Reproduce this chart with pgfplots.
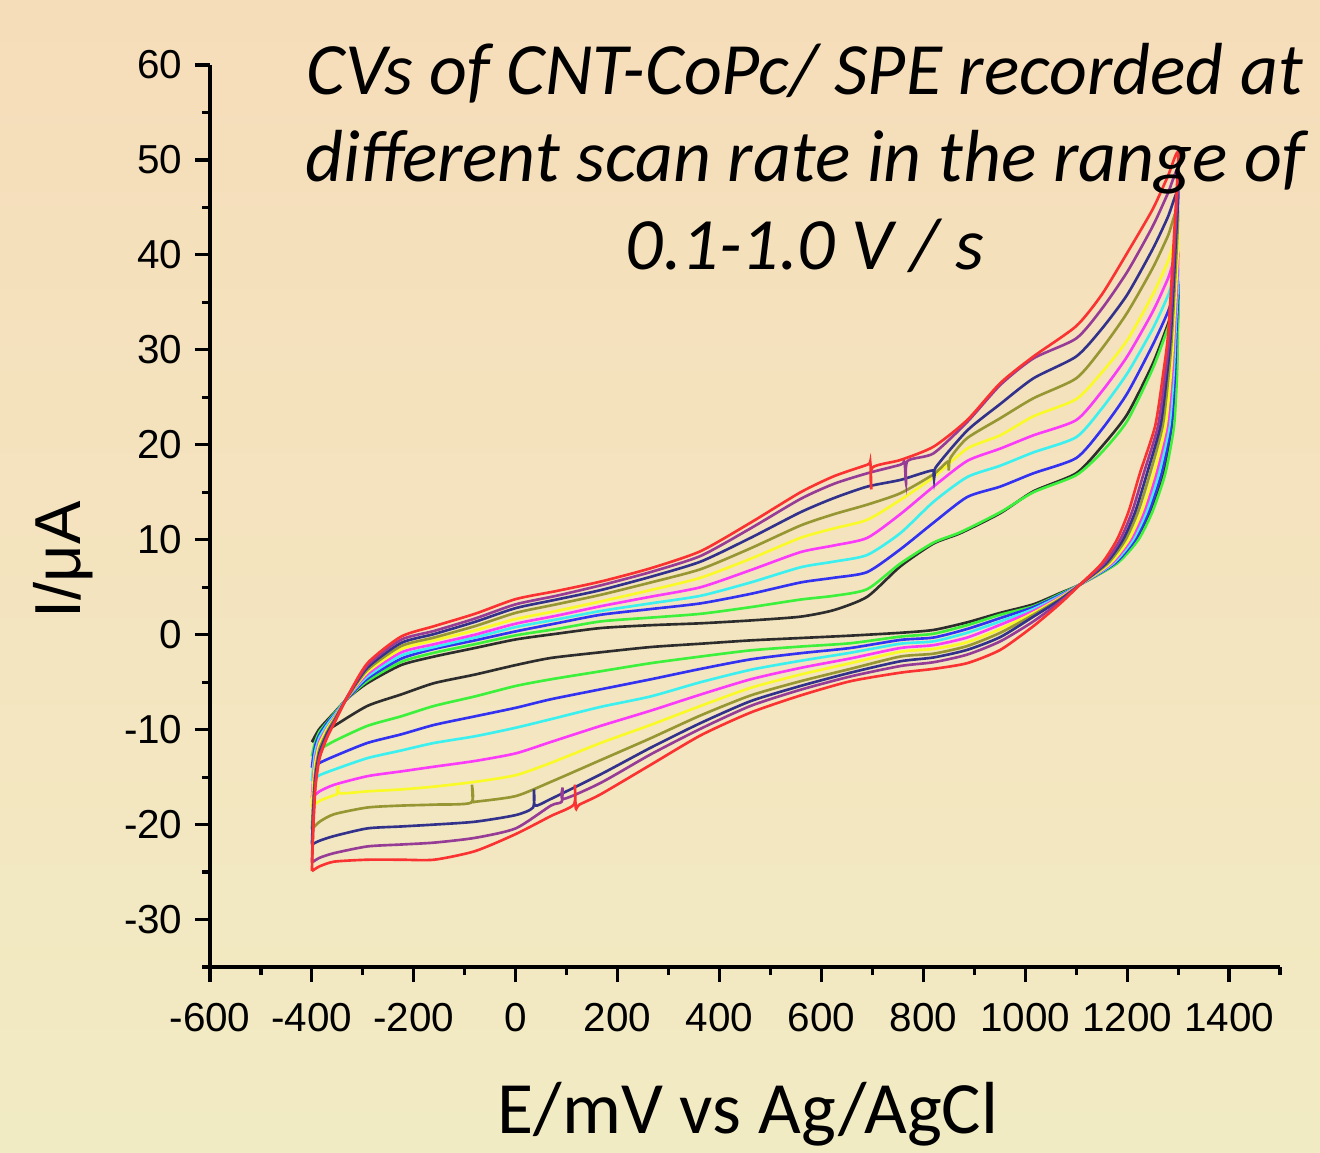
\documentclass[border=0pt]{standalone}
\usepackage{fontspec}
\setmainfont{Liberation Sans}
\newfontfamily\calibri{Carlito}
\usepackage{pgfplots}
\pgfplotsset{compat=1.18}

\definecolor{bgtop}{RGB}{246,221,186}
\definecolor{bgbot}{RGB}{241,235,195}
\definecolor{cBlack}{RGB}{45,45,45}
\definecolor{cGreen}{RGB}{60,240,60}
\definecolor{cBlue}{RGB}{50,50,240}
\definecolor{cCyan}{RGB}{60,240,240}
\definecolor{cMag}{RGB}{250,60,250}
\definecolor{cYel}{RGB}{250,250,40}
\definecolor{cOlive}{RGB}{150,150,50}
\definecolor{cNavy}{RGB}{50,50,140}
\definecolor{cPurp}{RGB}{150,60,150}
\definecolor{cRed}{RGB}{250,50,50}

\begin{document}
\begin{tikzpicture}
\shade[top color=bgtop, bottom color=bgbot] (0,0) rectangle (13.2cm,11.52cm);
\begin{axis}[
    at={(2.10cm,1.85cm)}, anchor=south west,
    scale only axis, width=10.7cm, height=9.02cm,
    xmin=-600, xmax=1500, ymin=-35, ymax=60,
    axis x line*=bottom, axis y line*=left,
    axis line style={line width=0.9pt, -},
    xtick={-600,-400,...,1400}, ytick={-30,-20,...,60},
    minor xtick={-500,-300,...,1500}, minor ytick={-35,-25,...,55},
    tick align=outside, major tick length=4.3pt, minor tick length=2.3pt,
    every tick/.style={line width=0.9pt, black},
    ticklabel style={font=\fontsize{11.5}{13}\selectfont},
    xticklabel style={yshift=-2.6pt},
    /pgf/number format/assume math mode=true,
    /pgf/number format/1000 sep={},
    no markers,
    every axis plot/.append style={line width=0.75pt, smooth, tension=0.4},
]
% 0.1 V/s
\addplot[cBlack] coordinates {
(-400,-11.3) (-397,-11.0) (-393,-10.6) (-385,-9.9) (-370,-9.0) (-356,-8.2) (-330,-6.7) (-291,-5.1) (-225,-3.2) (-160,-2.3) (-80,-1.4) (0,-0.5) (80,0.1) (167,0.7) (265,1.0) (363,1.2) (461,1.5) (559,1.9) (625,2.6) (690,4.0) (755,7.2) (820,9.6) (873,10.7) (951,12.8) (1016,15.1) (1100,17.0) (1150,19.8) (1200,23.2) (1250,28.5) (1280,32.7) (1300,35.8)
(1298.6,32) (1296.7,27.6) (1290.2,22) (1272.5,17) (1247.7,13) (1219.9,10) (1178.5,7.5) (1108,5.3)
(1069,4.4) (1016,3.2) (951,2.3) (886,1.3) (820,0.5) (755,0.2) (657,-0.1) (559,-0.35) (461,-0.6) (363,-0.95) (265,-1.3) (167,-1.85) (69,-2.45) (0,-3.2) (-80,-4.2) (-160,-5.1) (-225,-6.3) (-291,-7.5) (-356,-9.6) (-385,-10.6) (-400,-11.3)
};
% 0.2 V/s
\addplot[cGreen] coordinates {
(-400,-12.8) (-397,-12.0) (-393,-11.2) (-385,-10.2) (-370,-9.2) (-356,-8.3) (-330,-6.7) (-291,-4.87) (-225,-2.87) (-160,-1.9) (-80,-1.0) (0,-0.07) (80,0.6) (167,1.4) (265,1.8) (363,2.2) (461,2.9) (559,3.7) (625,4.1) (690,4.8) (755,7.5) (820,9.7) (873,10.8) (951,12.9) (1016,15.0) (1100,16.8) (1150,19.2) (1200,22.5) (1250,28.0) (1280,32.3) (1300,35.5)
(1299.5,32) (1298,27.6) (1292,22) (1275,17) (1250,13) (1222,10) (1180,7.5) (1108,5.3)
(1069,4.3) (1016,3.0) (951,2.1) (886,1.0) (820,0.1) (755,-0.2) (657,-0.9) (559,-1.25) (461,-1.65) (363,-2.3) (265,-3.0) (167,-3.85) (69,-4.7) (0,-5.4) (-80,-6.5) (-160,-7.5) (-225,-8.6) (-291,-9.6) (-356,-11.2) (-385,-12.1) (-400,-12.8)
};
% 0.3 V/s
\addplot[cBlue] coordinates {
(-400,-14.0) (-397,-12.7) (-393,-11.6) (-385,-10.5) (-370,-9.3) (-356,-8.4) (-330,-6.7) (-291,-4.63) (-225,-2.53) (-160,-1.5) (-80,-0.6) (0,0.35) (80,1.2) (167,2.1) (265,2.7) (363,3.3) (461,4.3) (559,5.5) (625,6.0) (690,6.6) (755,9.0) (820,11.8) (886,14.5) (951,15.6) (1016,17.0) (1100,18.6) (1150,21.6) (1200,25.4) (1250,30.5) (1280,34.0) (1300,37.0)
(1296.7,32) (1294,27.6) (1286.5,22) (1267.5,17) (1243,13) (1215.7,10) (1175.5,7.5) (1108,5.3)
(1069,4.2) (1016,2.9) (951,1.75) (886,0.6) (820,-0.3) (755,-0.55) (657,-1.4) (559,-1.95) (461,-2.6) (363,-3.6) (265,-4.7) (167,-5.75) (69,-6.8) (0,-7.7) (-80,-8.6) (-160,-9.5) (-225,-10.5) (-291,-11.4) (-356,-12.8) (-385,-13.5) (-400,-14.0)
};
% 0.4 V/s
\addplot[cCyan] coordinates {
(-400,-15.4) (-397,-13.7) (-393,-12.2) (-385,-10.8) (-370,-9.5) (-356,-8.5) (-330,-6.6) (-291,-4.4) (-225,-2.2) (-160,-1.3) (-80,-0.3) (0,0.8) (80,1.6) (167,2.5) (265,3.3) (363,4.1) (461,5.5) (559,7.1) (625,7.7) (690,8.4) (755,10.7) (820,14.0) (886,16.6) (951,17.8) (1016,19.2) (1100,20.8) (1150,23.8) (1200,27.5) (1250,32.2) (1280,35.7) (1300,38.6)
(1294.9,32) (1291.3,27.6) (1282.8,22) (1262.5,17) (1238.3,13) (1211.5,10) (1172.5,7.5) (1108,5.3)
(1069,4.1) (1016,2.7) (951,1.4) (886,0.2) (820,-0.7) (755,-0.95) (657,-1.9) (559,-2.75) (461,-3.7) (363,-5.0) (265,-6.5) (167,-7.6) (69,-8.9) (0,-9.8) (-80,-10.7) (-160,-11.4) (-225,-12.2) (-291,-13.0) (-356,-14.2) (-385,-14.8) (-400,-15.4)
};
% 0.5 V/s
\addplot[cMag] coordinates {
(-400,-17.2) (-397,-14.9) (-393,-12.9) (-385,-11.2) (-370,-9.8) (-356,-8.7) (-330,-6.6) (-291,-4.17) (-225,-1.87) (-160,-1.0) (-80,0.0) (0,1.16) (80,2.0) (167,3.0) (265,4.0) (363,5.0) (461,6.8) (559,8.7) (625,9.4) (690,10.2) (755,12.7) (820,15.6) (886,18.3) (951,19.6) (1016,21.0) (1100,22.6) (1150,25.6) (1200,29.3) (1250,34.0) (1280,37.5) (1300,40.3)
(1293,32) (1288.6,27.6) (1279,22) (1257.5,17) (1233.6,13) (1207.3,10) (1169.5,7.5) (1108,5.3)
(1069,4.0) (1016,2.5) (951,1.05) (886,-0.3) (820,-1.1) (755,-1.4) (657,-2.5) (559,-3.5) (461,-4.7) (363,-6.3) (265,-8.0) (167,-9.6) (69,-11.3) (0,-12.5) (-80,-13.3) (-160,-13.9) (-225,-14.4) (-291,-14.9) (-356,-15.8) (-385,-16.5) (-400,-17.2)
};
% 0.6 V/s
\addplot[cYel] coordinates {
(-400,-18.2) (-397,-15.6) (-393,-13.4) (-385,-11.5) (-370,-9.9) (-356,-8.8) (-330,-6.6) (-291,-3.93) (-225,-1.53) (-160,-0.6) (-80,0.45) (0,1.65) (80,2.5) (167,3.5) (265,4.7) (363,6.0) (461,8.0) (559,10.2) (625,11.2) (690,12.1) (755,14.2) (820,16.6) (886,19.6) (951,21.0) (1016,23.0) (1100,24.8) (1150,27.6) (1200,31.0) (1250,35.8) (1280,39.3) (1300,42.1)
(1291.2,32) (1285.9,27.6) (1275.4,22) (1252.5,17) (1228.9,13) (1203.1,10) (1166.5,7.5) (1108,5.3)
(1069,3.9) (1016,2.3) (951,0.6) (886,-0.8) (820,-1.5) (755,-1.8) (657,-3.0) (559,-4.2) (461,-5.6) (363,-7.5) (265,-9.5) (167,-11.4) (69,-13.5) (0,-14.8) (-80,-15.5) (-160,-16.0) (-225,-16.3) (-291,-16.5) (-345,-16.7) (-348,-15.9) (-351,-16.8) (-356,-16.9) (-385,-17.5) (-400,-18.2)
};
% 0.7 V/s
\addplot[cOlive] coordinates {
(-400,-20.5) (-397,-17.1) (-393,-14.3) (-385,-12.0) (-370,-10.2) (-356,-8.9) (-330,-6.6) (-291,-3.7) (-225,-1.2) (-160,-0.3) (-80,0.9) (0,2.3) (80,3.2) (167,4.2) (265,5.5) (363,6.9) (461,9.1) (559,11.5) (625,12.7) (690,13.7) (755,14.9) (820,16.9) (847,18.2) (850,17.3) (853,18.6) (886,20.7) (951,22.8) (1016,24.9) (1100,27.0) (1150,30.1) (1200,33.9) (1250,38.6) (1280,42.0) (1300,44.6)
(1288.4,32) (1281.8,27.6) (1269.8,22) (1245,17) (1221.8,13) (1196.8,10) (1162,7.5) (1108,5.3)
(1069,3.8) (1016,2.1) (951,0.2) (886,-1.2) (820,-2.0) (755,-2.3) (657,-3.6) (559,-4.9) (461,-6.4) (363,-8.5) (265,-10.9) (167,-13.2) (69,-15.5) (0,-17.0) (-80,-17.6) (-84,-17.6) (-86,-15.8) (-88,-17.7) (-160,-17.9) (-225,-18.0) (-291,-18.2) (-356,-18.9) (-385,-19.7) (-400,-20.5)
};
% 0.8 V/s
\addplot[cNavy] coordinates {
(-400,-22.1) (-397,-18.1) (-393,-14.9) (-385,-12.4) (-370,-10.4) (-356,-9.1) (-330,-6.5) (-291,-3.47) (-225,-0.87) (-160,0.07) (-80,1.35) (0,2.8) (80,3.7) (167,4.7) (265,6.1) (363,7.7) (461,10.2) (559,12.9) (625,14.4) (690,15.6) (755,16.3) (818,17.3) (821,16.4) (824,17.6) (886,21.5) (951,24.3) (1016,27.0) (1100,29.3) (1150,32.2) (1200,35.8) (1250,40.6) (1280,44.0) (1300,46.8)
(1296,42) (1286.2,32) (1278.6,27.6) (1265.4,22) (1239,17) (1216.2,13) (1191.8,10) (1158.4,7.5) (1108,5.3)
(1069,3.7) (1016,1.9) (951,-0.25) (886,-1.6) (820,-2.4) (755,-2.8) (657,-4.0) (559,-5.4) (461,-7.0) (363,-9.3) (265,-11.9) (167,-14.7) (69,-17.3) (38,-18.0) (36,-16.3) (34,-18.2) (0,-19.0) (-80,-19.7) (-160,-20.0) (-225,-20.2) (-291,-20.4) (-356,-21.2) (-385,-21.7) (-400,-22.1)
};
% 0.9 V/s
\addplot[cPurp] coordinates {
(-400,-24.0) (-397,-19.4) (-393,-15.6) (-385,-12.8) (-370,-10.7) (-356,-9.2) (-330,-6.5) (-291,-3.23) (-225,-0.53) (-160,0.4) (-80,1.7) (0,3.2) (80,4.1) (167,5.2) (265,6.6) (363,8.3) (461,11.2) (559,14.3) (625,15.9) (690,17.0) (755,17.9) (763,18.2) (766,16.0) (769,18.3) (820,19.1) (886,22.4) (951,26.3) (1016,29.1) (1100,31.2) (1150,34.3) (1200,38.2) (1250,43.0) (1280,46.5) (1300,49.0)
(1294,42) (1283.8,32) (1275.1,27.6) (1260.6,22) (1232.5,17) (1210,13) (1186.3,10) (1154.5,7.5) (1108,5.3)
(1069,3.5) (1016,1.4) (951,-0.7) (886,-2.1) (820,-2.9) (755,-3.3) (657,-4.4) (559,-5.8) (461,-7.5) (363,-9.9) (265,-12.6) (167,-15.6) (94,-17.3) (92,-16.1) (90,-17.6) (69,-18.0) (0,-20.4) (-80,-21.4) (-160,-21.9) (-225,-22.1) (-291,-22.3) (-356,-23.0) (-385,-23.5) (-400,-24.0)
};
% 1.0 V/s
\addplot[cRed] coordinates {
(-400,-24.9) (-397,-20) (-393,-16) (-385,-13) (-370,-10.8) (-356,-9.3) (-330,-6.5) (-291,-3.0) (-225,-0.2) (-160,0.9) (-80,2.2) (0,3.75) (80,4.6) (167,5.6) (265,7.0) (363,8.8) (461,11.8) (559,15.0) (625,16.7) (690,17.9) (696,18.1) (698,15.3) (700,17.6) (755,18.4) (820,19.8) (886,22.6) (951,26.5) (1016,29.3) (1100,32.5) (1150,35.8) (1200,40.2) (1250,44.8) (1280,48.3) (1300,50.7)
(1292,42) (1281,32) (1271,27.6) (1255,22) (1225,17) (1203,13) (1180,10) (1150,7.5) (1108,5.3)
(1069,3.3) (1016,0.9) (951,-1.6) (886,-3.0) (820,-3.6) (755,-4.0) (657,-4.9) (559,-6.4) (461,-8.2) (363,-10.6) (265,-13.7) (167,-16.8) (125,-17.9) (118,-18.3) (116,-15.8) (114,-17.9) (69,-19.1) (0,-21.0) (-80,-22.8) (-160,-23.7) (-225,-23.7) (-291,-23.7) (-356,-23.9) (-385,-24.4) (-400,-24.9)
};
\end{axis}
% title and axis labels
\begin{scope}[every node/.style={font=\calibri\itshape\fontsize{21}{25}\selectfont, anchor=base}]
\node at (8.05cm,10.57cm) {CVs of CNT-CoPc/ SPE recorded at};
\node at (8.05cm,9.70cm) {different scan rate in the range of};
\node at (8.05cm,8.82cm) {0.1-1.0 V / s};
\end{scope}
\node[font=\calibri\fontsize{21}{25}\selectfont, anchor=base, inner sep=1pt] at (7.48cm,0.19cm) {E/mV vs Ag/AgCl};
\node[font=\fontsize{18.5}{22}\selectfont, anchor=base, rotate=90] at (0.80cm,5.92cm) {I/μA};
\pgfresetboundingbox
\path (0,0) rectangle (13.2cm,11.52cm);
\end{tikzpicture}
\end{document}
